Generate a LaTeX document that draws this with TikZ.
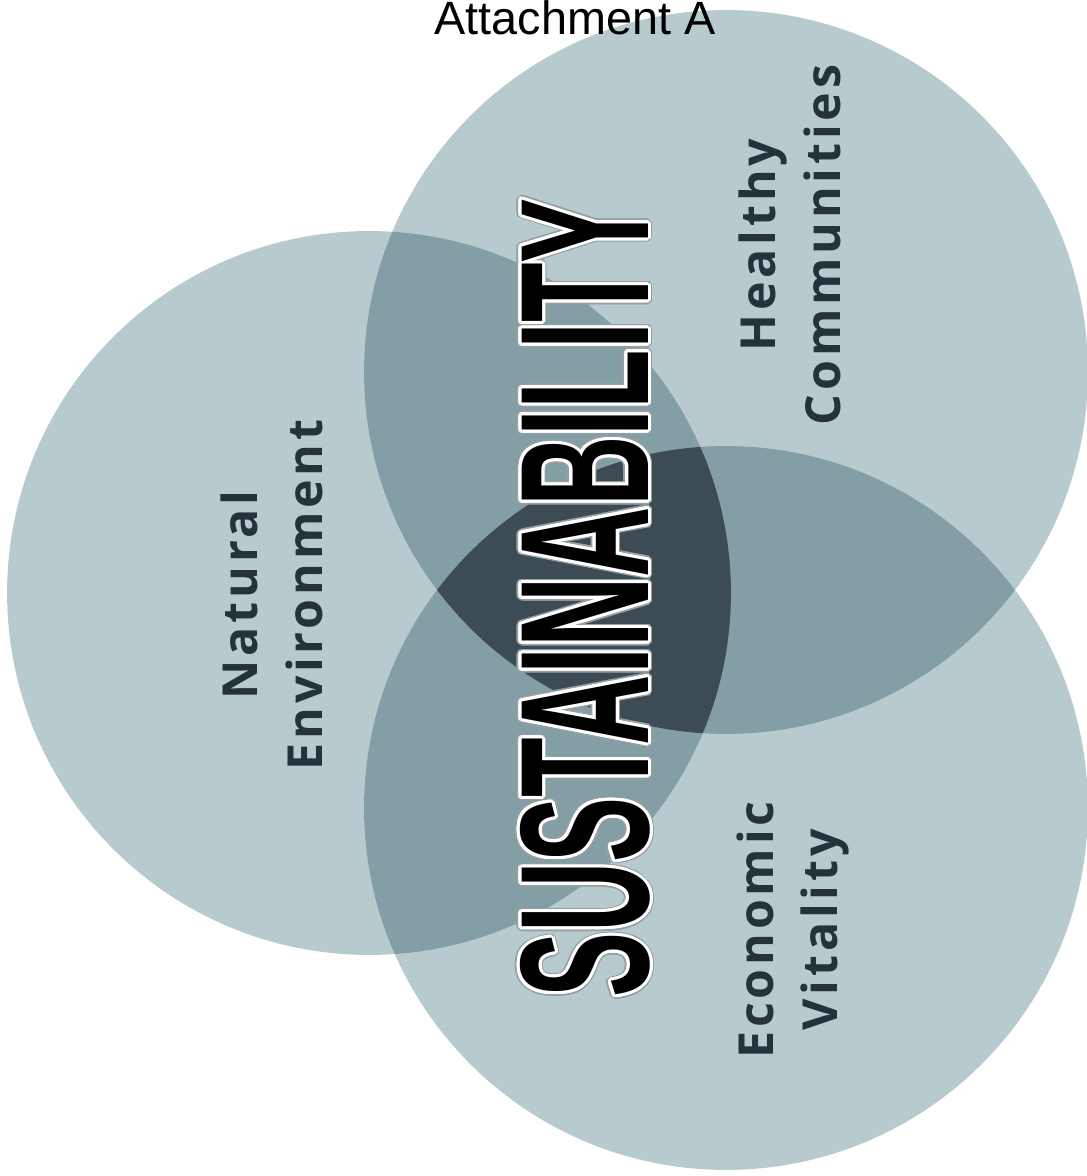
\documentclass[tikz,border=0pt]{standalone}
\usepackage{fontspec}
\usepackage{graphicx}
\setmainfont{Liberation Sans}
\newfontfamily\labelfont[LetterSpace=8]{Open Sans}
\newfontfamily\sustfont{Liberation Sans}
\usepackage{tikz}
\definecolor{vennlight}{RGB}{183,203,206}
\definecolor{vennmid}{RGB}{131,158,164}
\definecolor{venndark}{RGB}{61,75,84}
\definecolor{inkgray}{RGB}{38,50,58}
\definecolor{halogray}{RGB}{150,160,164}
\tikzstyle{circlelabel} = [rotate=90, align=center, text=inkgray, inner sep=0pt,
font=\labelfont\bfseries\fontsize{27.5pt}{36.8pt}\selectfont]
\tikzstyle{sust} = [rotate=90, inner sep=0pt]
\tikzstyle{title} = [anchor=base, inner sep=0pt, font=\fontsize{26.6pt}{32pt}\selectfont]
\newcommand{\rr}{7.24cm}
\newcommand{\susttext}{\resizebox*{16cm}{2.6cm}{\sustfont\bfseries SUSTAINABILITY}}

\begin{document}
\begin{tikzpicture}[x=0.02cm, y=0.02cm]
		\useasboundingbox (0,0) rectangle (1087,1176);
		\coordinate (health) at (726,804);
		\coordinate (nature) at (369,583);
		\coordinate (econ) at (726,368);
		
		% the three circles
		\fill[vennlight] (health) circle (\rr);
		\fill[vennlight] (nature) circle (\rr);
		\fill[vennlight] (econ) circle (\rr);
		
		% overlaps of two
		\begin{scope}
			\clip (health) circle (\rr);
			\fill[vennmid] (nature) circle (\rr);
			\fill[vennmid] (econ) circle (\rr);
		\end{scope}
		\begin{scope}
			\clip (nature) circle (\rr);
			\fill[vennmid] (econ) circle (\rr);
		\end{scope}
		
		% overlap of all three
		\begin{scope}
			\clip (health) circle (\rr);
			\clip (nature) circle (\rr);
			\fill[venndark] (econ) circle (\rr);
		\end{scope}
		
		\node [title] (attach) at (575,1141) {Attachment A};
		
		\node [circlelabel] (healthtxt) at (790,931) {Healthy\\Communities};
		\node [circlelabel] (naturetxt) at (272,581) {Natural\\Environment};
		\node [circlelabel] (econtxt) at (793,246) {Economic\\Vitality};
		
		% outlined title word
		\foreach \a in {0,20,...,340}
			\node [sust, text=halogray] at ([shift={(\a:4.5)}]585,578) {\susttext};
		\foreach \a in {0,20,...,340}
			\node [sust, text=white] at ([shift={(\a:3)}]585,578) {\susttext};
		\node [sust] (sustain) at (585,578) {\susttext};
\end{tikzpicture}
\end{document}
